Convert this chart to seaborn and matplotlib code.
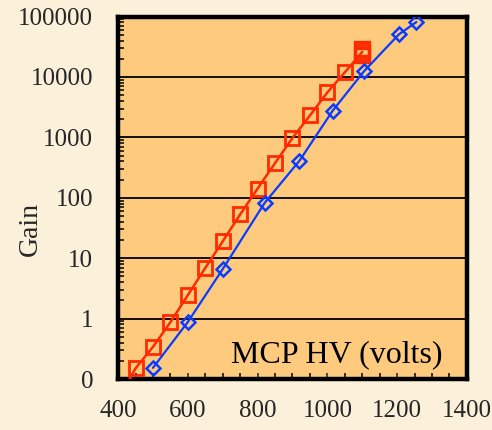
import matplotlib
matplotlib.use("Agg")
import matplotlib.pyplot as plt
import seaborn as sns
import pandas as pd
from matplotlib.ticker import FixedLocator, FixedFormatter, LogLocator, MultipleLocator, NullFormatter

# MCP gain vs. high voltage, two plates
red_hv = [400, 450, 500, 550, 600, 650, 700, 750, 800, 850, 900, 950, 1000, 1050, 1100]
red_gain = [0.045, 0.15, 0.34, 0.87, 2.45, 6.9, 19, 53, 142, 375, 977, 2300, 5540, 11900, 26000]
red_extra_hv = [1100, 1100]
red_extra_gain = [23500, 28500]

blue_hv = [500, 600, 700, 820, 920, 1015, 1105, 1205, 1255]
blue_gain = [0.153, 0.88, 6.6, 82, 410, 2750, 12400, 50600, 81000]

y_ticks = [0.1, 1, 10, 100, 1000, 10000, 100000]
y_labels = ["0", "1", "10", "100", "1000", "10000", "100000"]
x_ticks = [400, 600, 800, 1000, 1200, 1400]

RED = "#FF2A00"
BLUE = "#0A3CFF"
FIG_BG = "#FBF0DA"
AX_BG = "#FDCA7E"

sns.set_style("white")
plt.rcParams["font.family"] = ["Liberation Serif", "DejaVu Serif"]
plt.rcParams["xtick.labelsize"] = 18
plt.rcParams["ytick.labelsize"] = 18

fig = plt.figure(figsize=(4.92, 4.30), dpi=100, facecolor=FIG_BG)
ax = fig.add_axes([0.240, 0.1186, 0.709, 0.843])
ax.set_facecolor(AX_BG)

red_df = pd.DataFrame({"hv": red_hv, "gain": red_gain})
blue_df = pd.DataFrame({"hv": blue_hv, "gain": blue_gain})
extra_df = pd.DataFrame({"hv": red_extra_hv, "gain": red_extra_gain})

sns.lineplot(data=red_df, x="hv", y="gain", ax=ax, color=RED, lw=1.8,
             marker="s", markersize=10.5, markerfacecolor="none",
             markeredgecolor=RED, markeredgewidth=2.0,
             estimator=None, sort=False, zorder=4)
sns.lineplot(data=extra_df, x="hv", y="gain", ax=ax, color=RED, lw=0,
             marker="s", markersize=10.5, markerfacecolor="none",
             markeredgecolor=RED, markeredgewidth=2.4,
             estimator=None, sort=False, zorder=4)
sns.lineplot(data=blue_df, x="hv", y="gain", ax=ax, color=BLUE, lw=1.6,
             marker="D", markersize=7, markerfacecolor="none",
             markeredgecolor=BLUE, markeredgewidth=1.8,
             estimator=None, sort=False, zorder=5)

ax.set_yscale("log")
ax.set_ylim(0.1, 100000)
ax.set_xlim(400, 1400)

# decade grid lines
for v in y_ticks[1:-1]:
    ax.axhline(v, color="black", lw=1.3, zorder=2)

ax.yaxis.set_major_locator(FixedLocator(y_ticks))
ax.yaxis.set_major_formatter(FixedFormatter(y_labels))
ax.yaxis.set_minor_locator(LogLocator(base=10, subs=range(2, 10)))
ax.yaxis.set_minor_formatter(NullFormatter())
ax.tick_params(axis="y", which="major", length=0, pad=18, labelsize=18, left=True)
ax.tick_params(axis="y", which="minor", direction="in", length=4, width=1.1,
               left=True, right=False, color="black")

ax.xaxis.set_major_locator(FixedLocator(x_ticks))
ax.xaxis.set_minor_locator(MultipleLocator(50))
ax.tick_params(axis="x", which="major", direction="in", length=4, width=1.1,
               pad=15, labelsize=18, bottom=True)
ax.tick_params(axis="x", which="minor", direction="in", length=4, width=1.1,
               bottom=True, color="black")

for s in ax.spines.values():
    s.set_visible(True)
    s.set_color("black")
    s.set_linewidth(3.2)

ax.set_xlabel("")
ax.set_ylabel("Gain", fontsize=20, labelpad=2)
ax.yaxis.set_label_coords(-0.215, 0.415)

ax.text(0.93, 0.045, "MCP HV (volts)", transform=ax.transAxes,
        ha="right", va="baseline", fontsize=23, color="black", zorder=6)

fig.savefig("out.png", dpi=100, facecolor=FIG_BG)
